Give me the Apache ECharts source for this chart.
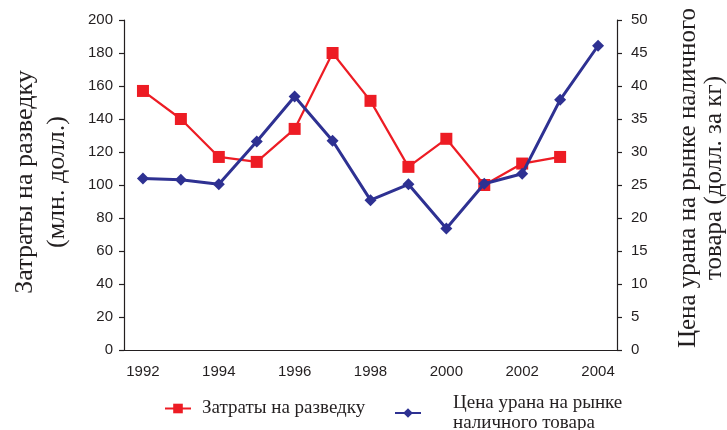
<!DOCTYPE html>
<html>
<head>
<meta charset="utf-8">
<script src="https://cdn.jsdelivr.net/npm/echarts@6/dist/echarts.min.js"></script>
<style>
  html, body { margin: 0; padding: 0; background: #fff; }
  #chart { width: 727px; height: 430px; }
</style>
</head>
<body>
<div id="chart"></div>
<script>
// годы по оси X
const years = ["1992", "1993", "1994", "1995", "1996", "1997", "1998",
  "1999", "2000", "2001", "2002", "2003", "2004"];
// затраты на разведку, млн. долл. (левая ось)
const exploration = [157, 140, 117, 114, 134, 180, 151, 111, 128, 100, 113, 117];
// цена урана, долл. за кг (правая ось)
const uraniumPrice = [26.0, 25.8, 25.1, 31.6, 38.4, 31.7, 22.7, 25.1, 18.4, 25.2, 26.7, 37.9, 46.1];

const leftName = "Затраты на разведку";
const rightName = "Цена урана на рынке\nналичного товара";

const ink = "#231f20";
const red = "#ed1c24";
const blue = "#2e3192";
const sans = "Liberation Sans";
const serif = "Liberation Serif";

const chart = echarts.init(document.getElementById("chart"));

const yAxisBase = {
  type: "value",
  splitLine: { show: false },
  axisLine: { show: true, lineStyle: { color: ink, width: 1.2 } },
  axisTick: { show: true, length: 5, lineStyle: { color: ink, width: 1.2 } },
  axisLabel: { color: ink, fontFamily: sans, fontSize: 15 }
};

chart.setOption({
  animation: false,
  backgroundColor: "#fff",
  grid: { left: 124, right: 110, top: 20, bottom: 80 },
  xAxis: {
    type: "category",
    data: years,
    boundaryGap: true,
    axisLine: { lineStyle: { color: ink, width: 1.2 } },
    axisTick: { show: false },
    axisLabel: { interval: 1, color: ink, fontFamily: sans, fontSize: 15, margin: 14 }
  },
  yAxis: [
    Object.assign({}, yAxisBase, {
      min: 0, max: 200, interval: 20, position: "left",
      axisLabel: Object.assign({}, yAxisBase.axisLabel, { margin: 11 })
    }),
    Object.assign({}, yAxisBase, {
      min: 0, max: 50, interval: 5, position: "right",
      axisLabel: Object.assign({}, yAxisBase.axisLabel, { margin: 14 })
    })
  ],
  legend: [
    {
      data: [leftName],
      left: 159, top: 394,
      itemWidth: 26, itemHeight: 12,
      textStyle: { fontFamily: serif, fontSize: 19, color: ink, padding: [0, 0, 0, 6] }
    },
    {
      data: [rightName],
      left: 389, top: 388,
      itemWidth: 26, itemHeight: 12,
      textStyle: { fontFamily: serif, fontSize: 19, color: ink, lineHeight: 20, padding: [0, 0, 0, 27] }
    }
  ],
  graphic: [
    {
      type: "text", x: 41, y: 182, rotation: Math.PI / 2,
      style: {
        text: "Затраты на разведку\n(млн. долл.)",
        font: "26px " + serif, fill: ink,
        textAlign: "center", textVerticalAlign: "middle", lineHeight: 32
      }
    },
    {
      type: "text", x: 701, y: 178, rotation: Math.PI / 2,
      style: {
        text: "Цена урана на рынке наличного\nтовара (долл. за кг)",
        font: "25px " + serif, fill: ink,
        textAlign: "center", textVerticalAlign: "middle", lineHeight: 26
      }
    }
  ],
  series: [
    {
      name: leftName,
      type: "line",
      yAxisIndex: 0,
      data: exploration,
      symbol: "rect",
      symbolSize: 12,
      lineStyle: { color: red, width: 2.2 },
      itemStyle: { color: red },
      z: 2
    },
    {
      name: rightName,
      type: "line",
      yAxisIndex: 1,
      data: uraniumPrice,
      symbol: "diamond",
      symbolSize: 12,
      lineStyle: { color: blue, width: 3 },
      itemStyle: { color: blue },
      z: 3
    }
  ]
});
</script>
</body>
</html>
